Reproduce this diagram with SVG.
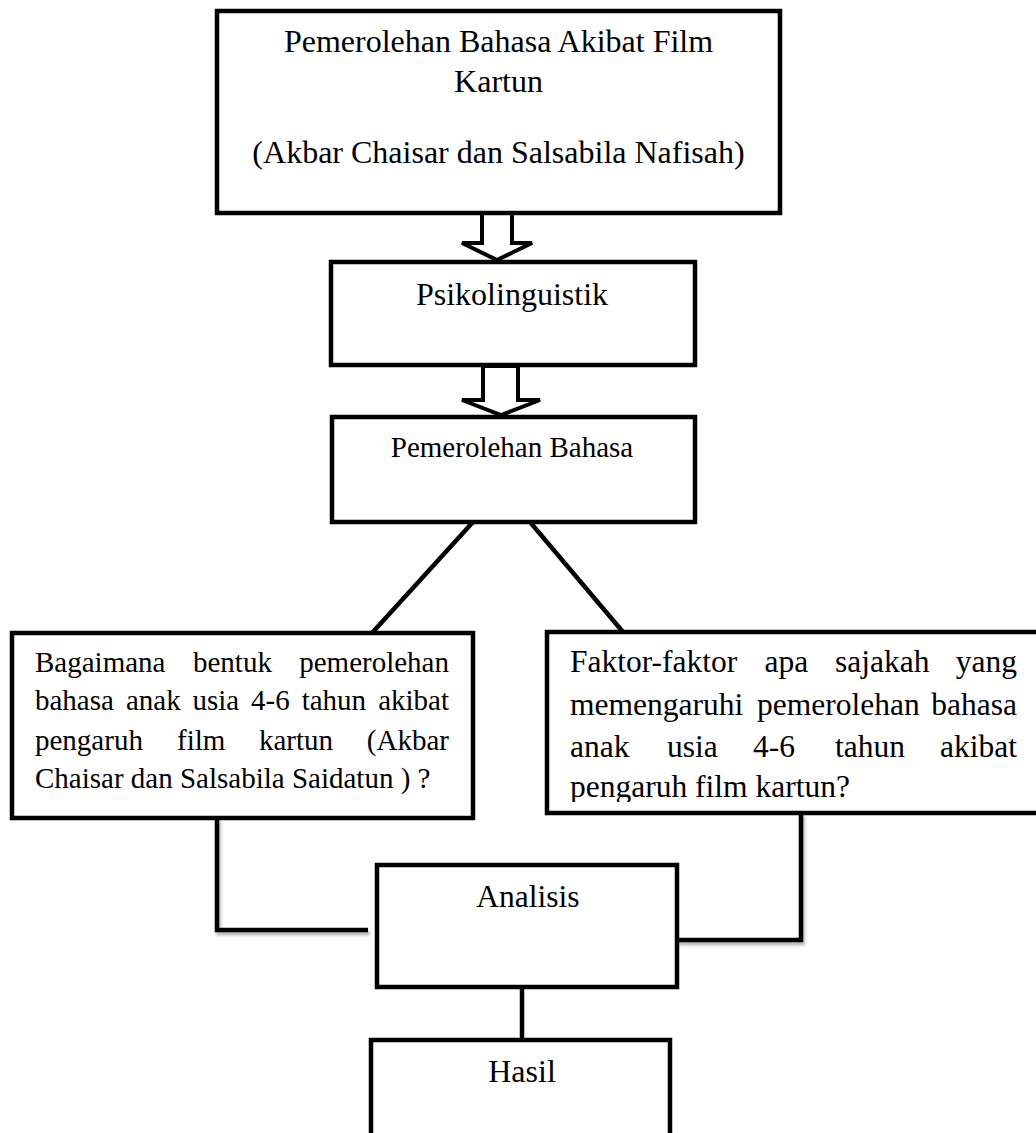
<svg xmlns="http://www.w3.org/2000/svg" width="1036" height="1133" viewBox="0 0 1036 1133">
<style>
  .box { fill: #ffffff; stroke: #000000; stroke-width: 4.5; }
  .arrow { fill: #ffffff; stroke: #000000; stroke-width: 4; stroke-linejoin: miter; }
  .line { fill: none; stroke: #000000; stroke-width: 4.5; }
  text { font-family: "Liberation Serif", "Times New Roman", serif; fill: #000000; }
  .t32 { font-size: 32px; }
  .t31 { font-size: 31.5px; }
  .t29 { font-size: 29px; }
  .mid { text-anchor: middle; }
  .end { text-anchor: end; }
</style>
<defs>
  <filter id="shadow" x="-10%" y="-10%" width="130%" height="140%">
    <feDropShadow dx="1.5" dy="3" stdDeviation="1.5" flood-color="#000000" flood-opacity="0.3"/>
  </filter>
  <clipPath id="clipRight">
    <rect x="549" y="634" width="500" height="168"/>
  </clipPath>
</defs>
<rect width="1036" height="1133" fill="#ffffff"/>

<g id="connectors">
  <polygon class="arrow" points="482,213 512,213 512,243 532,243 497,260 462,243 482,243"/>
  <polygon class="arrow" points="483,366 518,366 518,400 540,400 501,415 462,400 483,400"/>
  <line class="line" x1="473" y1="522" x2="372" y2="633"/>
  <line class="line" x1="530" y1="522" x2="623" y2="632"/>
  <polyline class="line" filter="url(#shadow)" points="217,818 217,930 368,930"/>
  <polyline class="line" filter="url(#shadow)" points="801,813 801,940 677,940"/>
  <line class="line" x1="522" y1="987" x2="522" y2="1040"/>
</g>

<g id="node-judul">
  <rect class="box" x="217" y="11" width="563" height="202"/>
  <text class="t32 mid" x="498.5" y="52">Pemerolehan Bahasa Akibat Film</text>
  <text class="t32 mid" x="498.5" y="92">Kartun</text>
  <text class="t32 mid" x="498.5" y="163">(Akbar Chaisar dan Salsabila Nafisah)</text>
</g>

<g id="node-psikolinguistik">
  <rect class="box" x="331" y="262" width="364" height="103"/>
  <text class="t32 mid" x="512" y="305">Psikolinguistik</text>
</g>

<g id="node-pemerolehan">
  <rect class="box" x="332" y="417" width="363" height="105"/>
  <text class="t29 mid" x="512" y="457">Pemerolehan Bahasa</text>
</g>

<g id="node-rumusan1">
  <rect class="box" x="12" y="633" width="461" height="185"/>
  <text class="t29" y="672"><tspan x="35">Bagaimana</tspan><tspan x="193">bentuk</tspan></text>
  <text class="t29 end" x="449" y="672">pemerolehan</text>
  <text class="t29" y="710"><tspan x="35">bahasa</tspan><tspan x="126">anak</tspan><tspan x="192.5">usia</tspan><tspan x="251">4-6</tspan><tspan x="301.7">tahun</tspan></text>
  <text class="t29 end" x="449" y="710">akibat</text>
  <text class="t29" y="750"><tspan x="35">pengaruh</tspan><tspan x="177">film</tspan><tspan x="259">kartun</tspan></text>
  <text class="t29 end" x="449" y="750">(Akbar</text>
  <text class="t29" x="35" y="788">Chaisar dan Salsabila Saidatun ) ?</text>
</g>

<g id="node-rumusan2">
  <rect class="box" x="547" y="632" width="500" height="181"/>
  <text class="t31" y="672"><tspan x="570">Faktor-faktor</tspan><tspan x="764.5">apa</tspan><tspan x="835">sajakah</tspan></text>
  <text class="t31 end" x="1017" y="672">yang</text>
  <text class="t31" y="715"><tspan x="570">memengaruhi</tspan><tspan x="757">pemerolehan</tspan></text>
  <text class="t31 end" x="1017" y="715">bahasa</text>
  <text class="t31" y="757"><tspan x="570">anak</tspan><tspan x="667">usia</tspan><tspan x="753">4-6</tspan><tspan x="835">tahun</tspan></text>
  <text class="t31 end" x="1017" y="757">akibat</text>
  <text class="t31" x="570" y="797" clip-path="url(#clipRight)">pengaruh film kartun?</text>
</g>

<g id="node-analisis">
  <rect class="box" x="377" y="865" width="300" height="122"/>
  <text class="t31 mid" x="528" y="907">Analisis</text>
</g>

<g id="node-hasil">
  <rect class="box" x="371" y="1040" width="299" height="110"/>
  <text class="t32 mid" x="522" y="1082">Hasil</text>
</g>
</svg>
